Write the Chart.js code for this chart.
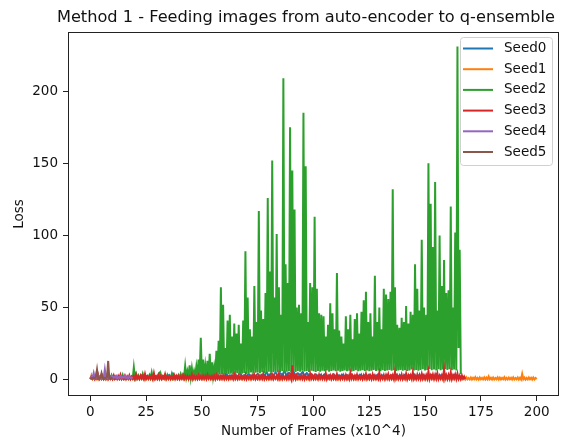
<!DOCTYPE html>
<html>
<head>
<meta charset="utf-8">
<script src="https://cdn.jsdelivr.net/npm/chart.js@4"></script>
<style>
  html, body { margin: 0; padding: 0; background: #fff; }
</style>
</head>
<body>
<canvas id="lossChart" width="566" height="442"></canvas>
<script>
// spacing between logged points, in frames (x10^4)
const seedStep = [1, 0.5, 0.5, 0.5, 0.5, 0.5];
const seedNames = ["Seed0", "Seed1", "Seed2", "Seed3", "Seed4", "Seed5"];
const seedColors = ["#1f77b4", "#ff7f0e", "#2ca02c", "#d62728", "#9467bd", "#8c564b"];
const chartTitle = "Method 1 - Feeding images from auto-encoder to q-ensemble";

const frameTicks = [0, 25, 50, 75, 100, 125, 150, 175, 200];
const lossTicks = [0, 50, 100, 150, 200];

const seed0Loss = [
  0.8,1.5,1.0,3.5,1.2,2.0,1.0,1.6,1.2,2.2,1.0,1.4,1.1,1.8,1.0,1.5,1.2,2.0,1.1,1.6,
  1.4,2.2,1.6,3.0,1.5,2.4,1.8,3.2,1.6,2.6,1.5,4.6,1.8,2.8,1.6,3.0,1.7,4.2,1.8,2.6,
  1.6,3.0,1.8,2.4,1.7,3.4,2.0,2.8,1.8,3.6,2.0,2.6,1.9,3.2,2.1,2.8,1.8,3.4,2.0,3.0,
  2.2,3.6,2.0,3.0,2.4,3.4,2.1,4.8,2.3,3.2,2.5,3.8,2.2,3.4,2.6,4.0,2.4,3.6,2.8,5.2,
  2.6,4.4,3.0,5.0,2.8,4.6,3.2,6.0,2.9,4.8,3.4,5.6,3.0,4.4,3.2,5.2,2.8,4.6,3.0,4.0,
  2.6,3.8,2.4,3.4,2.2,3.6,2.0,3.2,2.3,3.8,2.1,3.0,2.4,3.4,2.0,3.2,2.2,3.6,2.0,3.0,
  2.2,3.4,2.0,3.0,2.3,3.6,2.1,3.2,2.4,3.8,2.0,3.0,2.2,3.4,2.1,3.2,2.3,3.6,2.0,3.0,
  2.2,3.4,2.1,3.2,2.4,3.8,2.0,3.0,2.2,3.6,2.1,3.2,2.3,3.4,2.0,3.8,2.2,3.0,2.4,3.6,
  2.1,3.2,2.3,3.4,2.0,2.8
];

// low / high pairs, every half step
const seed1Loss = [
  0.4,3.0, 0.6,1.8, 0.3,3.2, 0.5,1.5, 0.4,2.2, 0.3,1.4, 0.5,1.6, 0.4,1.2, 0.3,1.5, 0.5,1.4,
  0.3,1.6, 0.4,1.2, 0.5,1.8, 0.3,1.3, 0.4,1.5, 0.3,1.2, 0.5,1.6, 0.4,1.4, 0.3,1.8, 0.4,1.2,
  0.3,1.6, 0.5,1.3, 0.2,1.8, 0.4,1.4, 0.3,1.7, 0.2,1.2, 0.5,1.9, 0.3,1.5, 0.4,1.3, 0.2,1.7,
  0.4,1.4, 0.3,1.8, 0.2,1.3, 0.5,1.6, 0.3,2.0, 0.4,1.4, 0.2,1.6, 0.3,1.3, 0.5,1.8, 0.3,1.5,
  0.2,1.7, 0.4,1.3, 0.3,1.9, 0.2,1.4, 0.5,1.6, 0.3,1.2, 0.4,1.8, 0.2,1.5, 0.3,1.4, 0.4,1.9,
  0.3,1.5, 0.2,1.7, 0.5,1.3, 0.3,1.8, 0.4,1.4, 0.2,1.6, 0.3,2.0, 0.5,1.3, 0.2,1.7, 0.4,1.5,
  0.3,1.8, 0.2,1.4, 0.4,1.6, 0.3,1.3, 0.5,1.9, 0.2,1.5, 0.3,1.7, 0.4,1.2, 0.2,1.8, 0.3,1.6,
  0.5,1.4, 0.3,1.9, 0.2,1.5, 0.4,1.7, 0.3,1.3, 0.2,1.8, 0.5,1.6, 0.3,1.4, 0.4,2.0, 0.2,1.5,
  0.3,1.7, 0.4,1.3, 0.2,1.8, 0.5,1.5, 0.3,1.6, 0.2,1.9, 0.4,1.4, 0.3,1.7, 0.2,1.3, 0.5,1.8,
  0.3,1.5, 0.4,1.7, 0.2,1.4, 0.3,1.9, 0.5,1.6, 0.2,1.3, 0.4,1.8, 0.3,1.5, 0.2,1.7, 0.4,1.4,
  0.3,1.9, 0.2,1.5, 0.5,1.7, 0.3,1.3, 0.4,1.8, 0.2,1.6, 0.3,1.4, 0.5,2.0, 0.2,1.5, 0.4,1.7,
  0.3,1.4, 0.2,1.8, 0.4,1.5, 0.3,1.7, 0.5,1.3, 0.2,1.9, 0.3,1.6, 0.4,1.4, 0.2,1.8, 0.3,1.5,
  0.5,1.7, 0.3,1.3, 0.2,1.9, 0.4,1.6, 0.3,1.4, 0.2,1.8, 0.5,1.5, 0.3,1.7, 0.4,1.3, 0.2,1.9,
  0.3,1.6, 0.4,1.4, 0.2,1.8, 0.5,1.5, 0.3,1.7, 0.2,1.3, 0.4,1.9, 0.3,1.6, 0.2,1.4, 0.5,1.8,
  0.3,1.5, 0.4,1.7, 0.2,1.4, 0.3,1.9, 0.5,1.6, 0.2,1.3, 0.4,1.8, 0.3,1.5, 0.2,1.7, 0.4,1.4,
  0.3,1.9, 0.2,1.5, 0.5,1.7, 0.3,1.3, 0.4,1.8, 0.2,1.6, 0.3,1.4, 0.5,2.0, 0.2,1.5, 0.4,1.7,
  0.3,1.4, 0.2,1.8, 0.4,1.5, 0.3,1.7, 0.5,1.3, 0.2,1.9, 0.3,1.6, 0.4,1.4, 0.1,1.6, 0.3,1.2,
  0.2,1.5, 0.1,1.3, 0.3,1.7, 0.2,1.2, 0.1,1.5, 0.3,1.3, 0.2,1.6, 0.1,1.4, 0.2,2.2, 0.3,1.3,
  0.1,1.5, 0.2,1.2, 0.3,1.6, 0.1,1.4, 0.2,1.3, 0.3,1.7, 0.1,1.2, 0.2,1.5, 0.3,1.3, 0.1,1.6,
  0.2,1.2, 0.3,1.5, 0.1,1.3, 0.2,4.0, 0.3,1.4, 0.1,1.2, 0.2,1.6, 0.3,1.3, 0.1,1.5, 0.2,1.2,
  0.5
];

const seed2Loss = [
  0.5,1.2, 0.6,2.0, 0.5,1.1, 0.7,1.8, 0.5,1.0, 0.6,1.3, 0.5,2.2, 0.6,1.2, 0.5,1.0, 0.7,3.0,
  0.6,2.0, 0.5,1.2, 0.6,1.0, 0.5,2.0, 0.7,3.2, 0.5,1.1, 0.6,1.4, 0.5,2.0, 0.6,1.2, 0.7,8.5,
  1.5,4.0, 1.0,3.0, 1.2,2.2, 1.0,4.0, 1.3,3.0, 1.1,2.4, 1.0,3.2, 1.2,5.0, 1.0,3.0, 1.3,2.2,
  1.1,3.4, 1.0,4.2, 1.2,2.4, 1.0,3.0, 1.3,3.3, 1.1,2.2, 1.2,4.0, 1.0,3.0, 1.3,2.5, 1.1,3.2,
  1.4,4.0, 1.5,3.5, 1.8,9.5, 2.0,6.0, 2.2,10.0, 1.8,8.0, 2.0,6.0, 2.5,9.0, 2.2,14.0, 3.0,29.0,
  2.5,14.0, 2.2,10.0, 2.8,13.0, 2.5,18.0, 2.2,12.0, 2.6,9.0, 3.0,20.0, 3.2,27.0, 3.5,64.0, 4.0,52.0,
  3.5,22.0, 4.0,41.0, 3.8,45.0, 4.2,30.0, 3.6,39.0, 4.0,32.0, 4.5,38.0, 3.8,25.0, 4.2,41.0, 4.6,89.0,
  4.0,57.0, 4.4,35.0, 5.0,30.0, 4.2,65.0, 4.8,40.0, 5.0,117.0, 4.4,48.0, 5.2,42.0, 4.6,60.0, 5.0,126.0,
  5.5,75.0, 4.8,152.0, 5.2,57.0, 5.6,101.0, 5.0,64.0, 5.4,45.0, 5.8,209.0, 5.0,80.0, 5.6,67.0, 6.0,175.0,
  5.2,145.0, 5.8,118.0, 5.4,50.0, 6.0,52.0, 5.5,46.0, 6.2,185.0, 5.6,148.0, 6.0,40.0, 5.4,67.0, 6.2,64.0,
  5.8,113.0, 5.4,63.0, 6.0,46.0, 5.6,45.0, 6.2,44.0, 5.8,30.0, 6.4,38.0, 5.6,53.0, 6.0,46.0, 6.4,35.0,
  5.8,74.0, 6.2,34.0, 5.6,30.0, 6.0,25.0, 6.4,44.0, 5.8,35.0, 6.2,45.0, 5.6,28.0, 6.0,42.0, 6.6,46.0,
  5.8,32.0, 6.2,47.0, 6.6,55.0, 6.0,61.0, 6.4,40.0, 5.8,46.0, 6.2,30.0, 6.8,72.0, 6.0,40.0, 6.4,50.0,
  5.8,35.0, 6.6,63.0, 6.0,59.0, 6.4,56.0, 6.8,61.0, 6.2,132.0, 6.6,64.0, 6.0,38.0, 6.4,36.0, 6.8,43.0,
  6.2,40.0, 6.6,51.0, 6.0,39.0, 6.4,47.0, 7.0,45.0, 6.4,80.0, 6.8,63.0, 6.2,48.0, 6.8,97.0, 7.2,50.0,
  6.4,45.0, 6.8,150.0, 7.4,122.0, 6.6,92.0, 7.0,137.0, 6.4,48.0, 7.2,100.0, 6.6,65.0, 7.0,83.0, 7.4,60.0,
  6.8,62.0, 7.2,120.0, 6.6,50.0, 7.0,102.0, 6.4,231.0, 22.0,90.0,
  4.0
];

const seed3Loss = [
  0.5,2.0, 0.8,3.0, 0.6,2.2, 0.9,3.5, 0.5,2.0, 0.7,2.8, 0.6,2.2, 0.8,3.2, 0.5,2.0, 0.7,2.5,
  0.6,3.0, 0.8,2.1, 0.5,2.6, 0.9,3.4, 0.6,2.0, 0.7,2.8, 0.5,2.3, 0.8,3.0, 0.6,2.1, 0.7,2.6,
  0.5,3.5, 0.8,2.2, 0.6,2.8, 0.9,2.5, 0.5,4.0, 0.7,2.3, 0.6,2.5, 0.8,2.8, 0.5,4.5, 0.7,2.2,
  0.6,3.0, 0.8,2.5, 0.5,2.2, 0.9,3.8, 0.6,2.4, 0.7,2.6, 0.5,2.2, 0.8,3.2, 0.6,2.6, 0.7,2.4,
  0.5,2.3, 0.8,3.0, 0.6,2.8, 0.9,2.5, 0.5,2.2, 0.7,3.6, 0.6,2.5, 0.8,2.2, 0.5,3.0, 0.7,2.3,
  0.6,2.8, 0.8,2.6, 0.5,3.4, 0.9,2.4, 0.6,2.5, 0.7,2.8, 0.5,3.2, 0.8,2.3, 0.6,2.6, 0.7,2.9,
  0.6,3.0, 0.8,2.4, 0.5,2.4, 0.9,2.7, 0.6,3.5, 0.7,2.3, 0.5,2.8, 0.8,2.6, 0.6,2.2, 0.7,3.4,
  0.5,2.5, 0.8,2.6, 0.6,2.8, 0.9,3.2, 0.5,2.4, 0.7,2.7, 0.6,2.6, 0.8,3.8, 0.5,2.5, 0.7,2.4,
  0.6,2.8, 0.8,3.2, 0.5,2.4, 0.9,2.6, 0.6,4.0, 0.7,2.6, 0.5,2.8, 0.8,2.5, 0.6,3.4, 0.7,3.0,
  0.6,10.0, 0.8,2.8, 0.5,3.0, 0.9,2.5, 0.6,2.6, 0.7,3.6, 0.5,2.7, 0.8,2.4, 0.6,4.2, 0.7,2.6,
  0.6,2.8, 0.8,2.5, 0.5,3.4, 0.9,2.9, 0.6,2.6, 0.7,4.4, 0.5,2.6, 0.8,3.0, 0.6,2.8, 0.7,2.5,
  0.6,3.8, 0.8,2.5, 0.5,2.8, 0.9,3.0, 0.6,3.2, 0.7,2.6, 0.5,4.6, 0.8,2.8, 0.6,2.7, 0.7,3.4,
  0.6,2.7, 0.8,3.0, 0.5,3.0, 0.9,4.0, 0.6,2.6, 0.7,2.8, 0.5,3.6, 0.8,2.8, 0.6,2.5, 0.7,5.0,
  0.6,2.7, 0.8,3.2, 0.5,3.2, 0.9,3.8, 0.6,2.6, 0.7,3.0, 0.5,5.5, 0.8,2.9, 0.6,2.8, 0.7,3.5,
  0.6,2.8, 0.8,4.2, 0.5,3.0, 0.9,3.0, 0.6,5.2, 0.7,2.7, 0.5,3.4, 0.8,3.2, 0.6,4.0, 0.7,2.9,
  0.6,3.2, 0.8,5.8, 0.5,3.0, 0.9,3.6, 0.6,3.4, 0.7,4.4, 0.5,2.8, 0.8,3.0, 0.6,7.4, 0.7,3.2,
  0.6,3.4, 0.8,5.0, 0.5,3.0, 0.9,3.6, 0.6,4.2, 0.7,2.8, 0.5,3.0, 0.8,2.2,
  0.5
];

const seed4Loss = [
  0.8,2.0,1.2,4.6,1.0,2.5,1.5,3.0,1.2,2.2,
  1.0,2.6,1.5,7.0,1.2,3.0,1.0,2.2,1.4,2.8,
  1.1,2.0,1.5,2.6,1.0,1.8,1.3,2.4,1.1,2.0,
  1.4,2.6,1.2,1.8,1.0,2.2,1.3,1.6,1.0
];

const seed5Loss = [
  0.5,1.2,0.8,1.5,1.0,2.0,7.0,1.2,0.8,1.6,
  4.5,1.0,1.4,0.8,1.2,2.0,13.0,1.0,1.5,0.8,
  1.2
];

const seedLoss = [seed0Loss, seed1Loss, seed2Loss, seed3Loss, seed4Loss, seed5Loss];

function toPoints(values, step) {
  return values.map((v, i) => ({ x: i * step, y: v }));
}

const FONT = "DejaVu Sans";
const INK = "#111";

// matplotlib-like frame, title and boxed legend
const mplDecor = {
  id: "mplDecor",
  afterDatasetsDraw(chart) {
    const ctx = chart.ctx;
    const a = chart.chartArea;
    ctx.save();
    ctx.strokeStyle = "#222";
    ctx.lineWidth = 1;
    ctx.strokeRect(Math.round(a.left) + 0.5, Math.round(a.top) + 0.5,
      Math.round(a.right - a.left) - 1, Math.round(a.bottom - a.top) - 1);

    ctx.fillStyle = INK;
    ctx.font = "16.2px '" + FONT + "'";
    ctx.textAlign = "center";
    ctx.textBaseline = "middle";
    ctx.fillText(chartTitle, 306, 17.5);

    const x0 = 460.5, y0 = 37.5, w = 92, h = 128, r = 3;
    ctx.beginPath();
    ctx.moveTo(x0 + r, y0);
    ctx.lineTo(x0 + w - r, y0);
    ctx.arcTo(x0 + w, y0, x0 + w, y0 + r, r);
    ctx.lineTo(x0 + w, y0 + h - r);
    ctx.arcTo(x0 + w, y0 + h, x0 + w - r, y0 + h, r);
    ctx.lineTo(x0 + r, y0 + h);
    ctx.arcTo(x0, y0 + h, x0, y0 + h - r, r);
    ctx.lineTo(x0, y0 + r);
    ctx.arcTo(x0, y0, x0 + r, y0, r);
    ctx.closePath();
    ctx.fillStyle = "rgba(255,255,255,0.8)";
    ctx.fill();
    ctx.strokeStyle = "#d0d0d0";
    ctx.stroke();

    ctx.font = "13.5px '" + FONT + "'";
    ctx.textBaseline = "middle";
    ctx.textAlign = "left";
    chart.data.datasets.forEach((ds, i) => {
      const y = 48.5 + i * 20.7;
      ctx.strokeStyle = ds.borderColor;
      ctx.lineWidth = 2;
      ctx.beginPath();
      ctx.moveTo(463, y);
      ctx.lineTo(493, y);
      ctx.stroke();
      ctx.fillStyle = INK;
      ctx.fillText(ds.label, 504, y);
    });
    ctx.restore();
  }
};

Chart.defaults.font.family = FONT;
Chart.defaults.color = INK;

new Chart(document.getElementById("lossChart").getContext("2d"), {
  type: "line",
  data: {
    datasets: seedNames.map((name, i) => ({
      label: name,
      data: toPoints(seedLoss[i], seedStep[i]),
      borderColor: seedColors[i],
      backgroundColor: seedColors[i],
      borderWidth: 2,
      pointRadius: 0,
      tension: 0,
      fill: false,
      order: seedNames.length - i
    }))
  },
  options: {
    responsive: false,
    animation: false,
    events: [],
    layout: { padding: { left: 0, right: 7, top: 32, bottom: 0 } },
    plugins: {
      legend: { display: false },
      tooltip: { enabled: false },
      title: { display: false }
    },
    scales: {
      x: {
        type: "linear",
        min: -10,
        max: 210,
        afterBuildTicks: (axis) => { axis.ticks = frameTicks.map(v => ({ value: v })); },
        afterFit: (s) => { s.height = 46; },
        border: { display: false },
        grid: { drawOnChartArea: false, drawTicks: true, tickLength: 5, tickColor: "#222", tickWidth: 1 },
        ticks: { font: { size: 13.5 }, color: INK, padding: 3, maxRotation: 0, autoSkip: false },
        title: { display: true, text: "Number of Frames (x10^4)", font: { size: 13.5 }, color: INK, padding: { top: 0, bottom: 2 } }
      },
      y: {
        type: "linear",
        min: -11.3,
        max: 241,
        afterBuildTicks: (axis) => { axis.ticks = lossTicks.map(v => ({ value: v })); },
        afterFit: (s) => { s.width = 68; },
        border: { display: false },
        grid: { drawOnChartArea: false, drawTicks: true, tickLength: 5, tickColor: "#222", tickWidth: 1 },
        ticks: { font: { size: 13.5 }, color: INK, padding: 5 },
        title: { display: true, text: "Loss", font: { size: 13.5 }, color: INK, padding: { top: 11, bottom: 0 } }
      }
    }
  },
  plugins: [mplDecor]
});
</script>
</body>
</html>
